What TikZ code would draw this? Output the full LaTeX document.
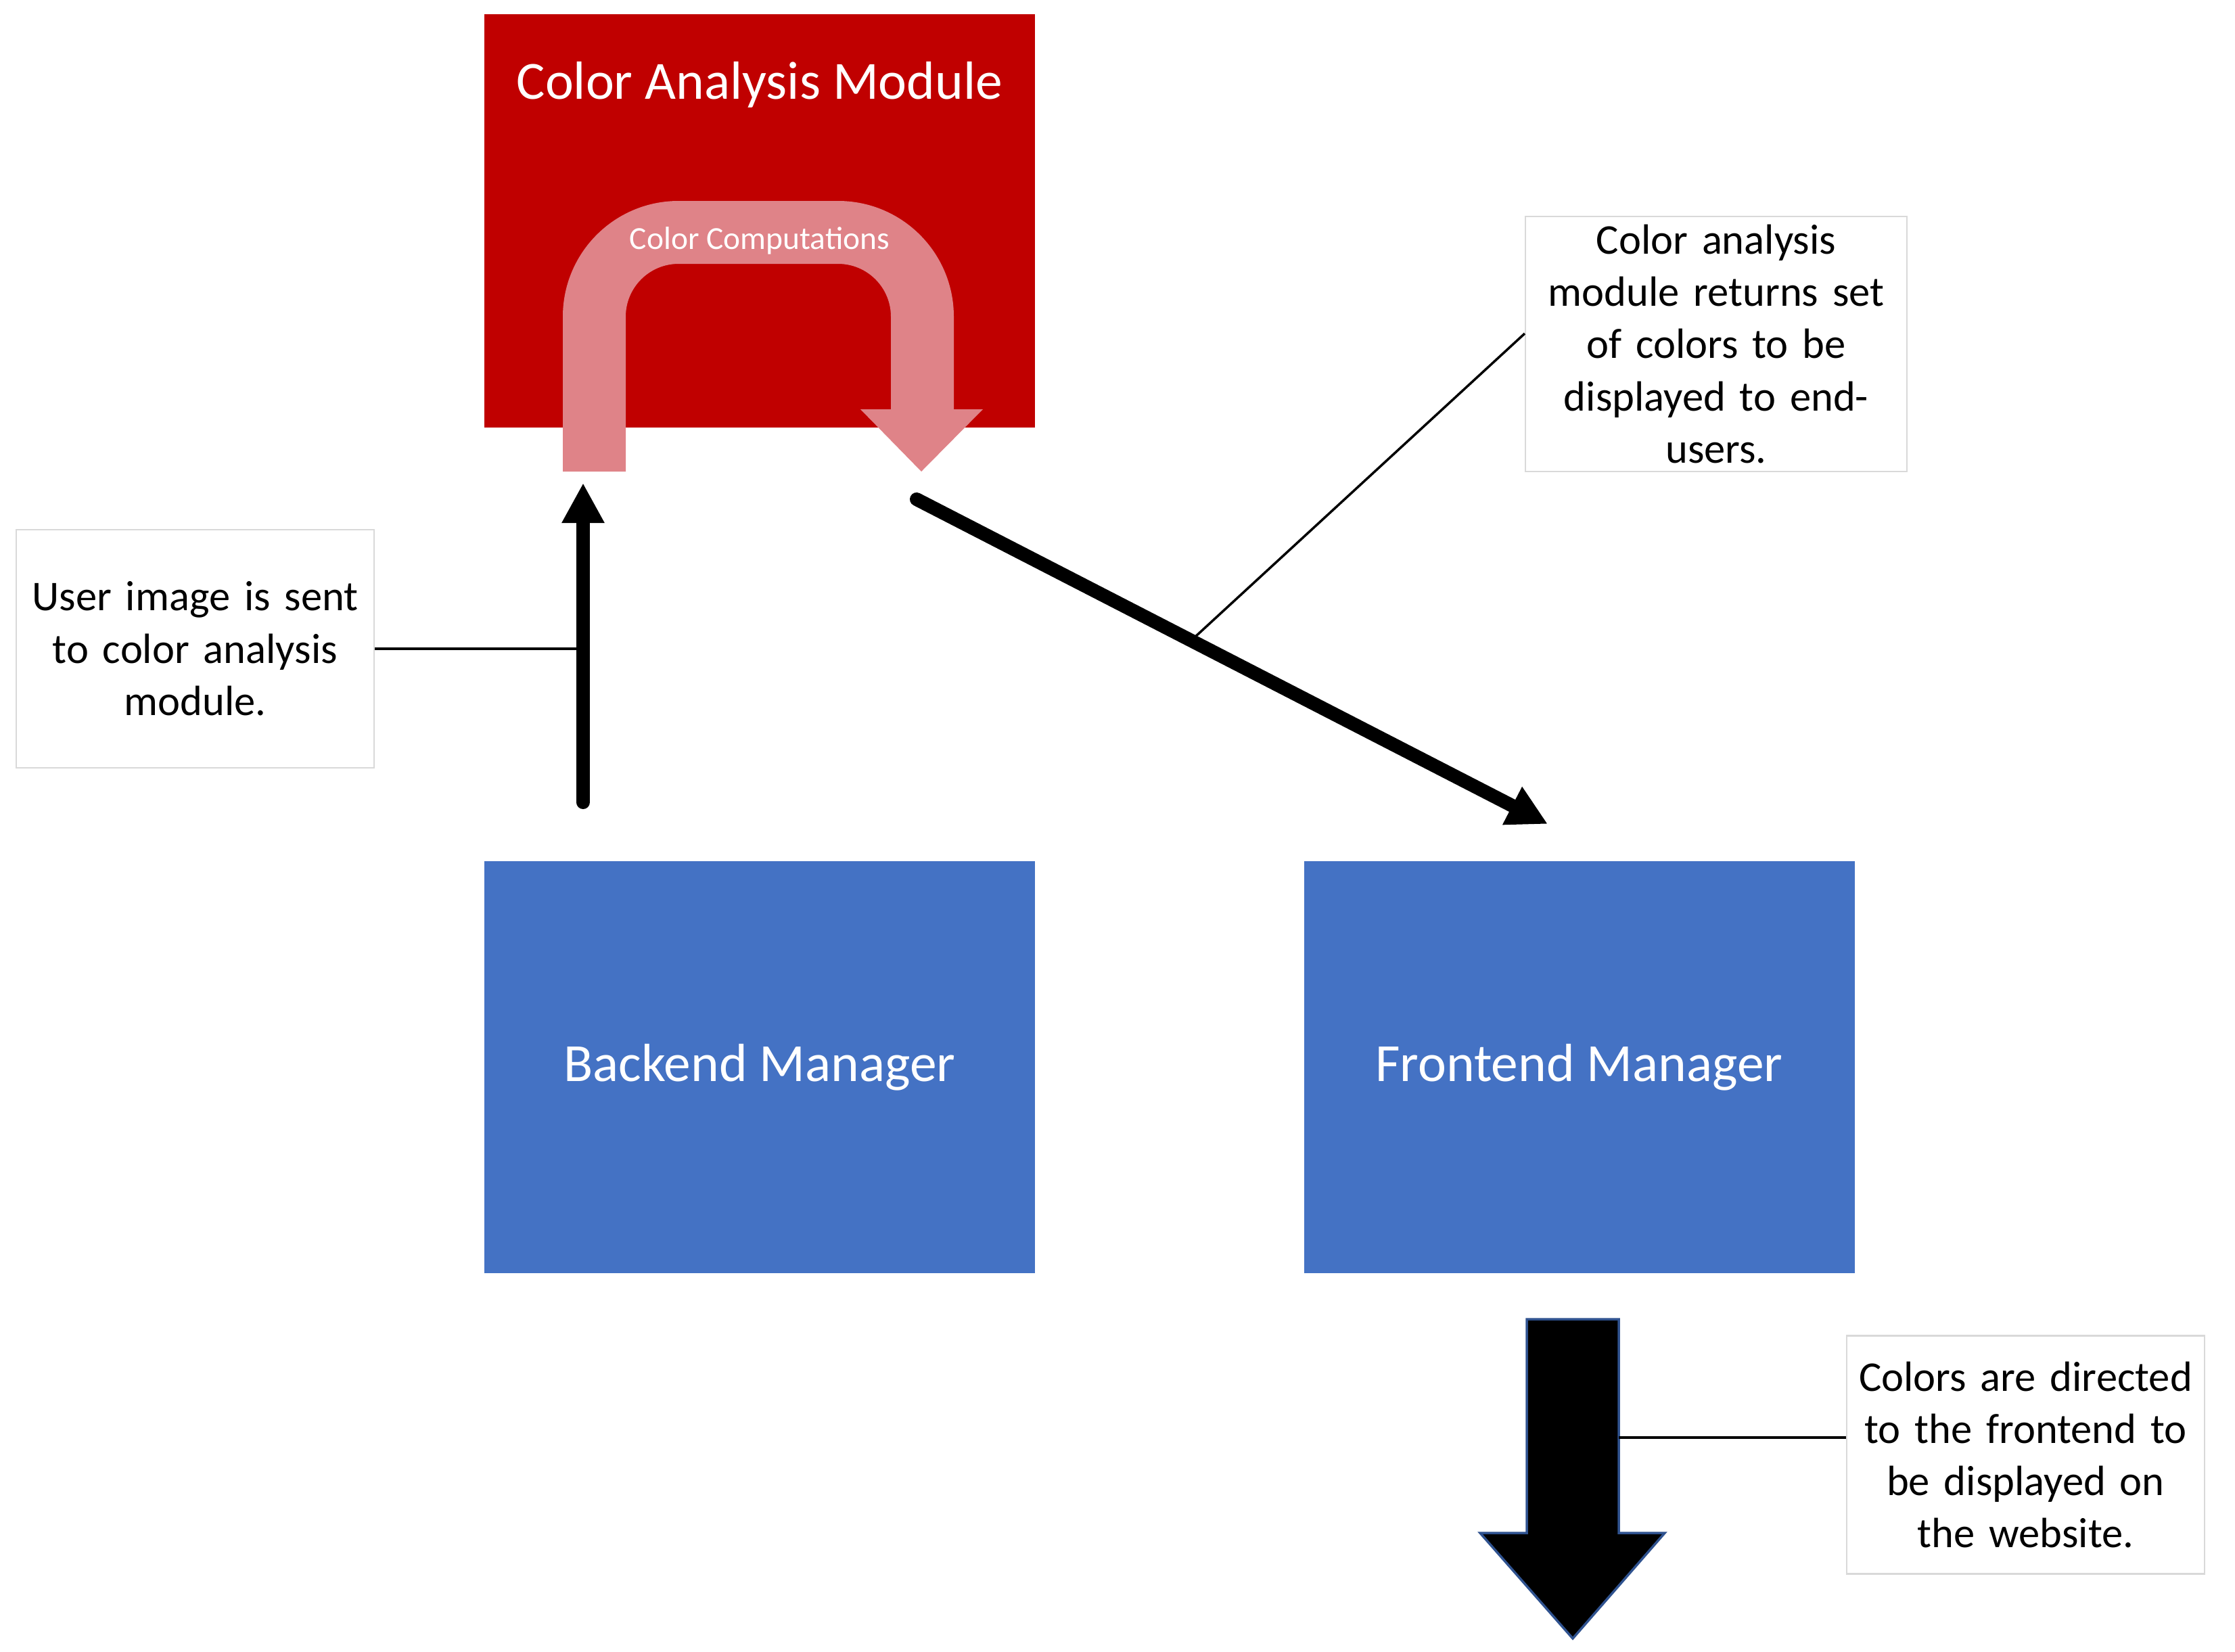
\documentclass[tikz,border=0pt]{standalone}
\usepackage{fontspec}
\setmainfont{Carlito}
\definecolor{modred}{RGB}{192, 0, 0}
\definecolor{turnpink}{RGB}{223, 131, 136}
\definecolor{mgrblue}{RGB}{68, 114, 196}
\definecolor{edgegray}{RGB}{217, 217, 217}
\definecolor{outline}{RGB}{47, 82, 143}
\usetikzlibrary{arrows.meta, positioning, calc}

\tikzset{
  bigtext/.style={font=\fontsize{22.6}{27}\selectfont, text=white},
  mgrbox/.style={fill=mgrblue, minimum width=8.14cm, minimum height=6.09cm, inner sep=0pt, bigtext},
  flow/.style={line width=5.7pt, line cap=round, -{Triangle[length=0.59cm, width=0.59cm]}},
  leader/.style={line width=1pt},
  note/.style={draw=edgegray, line width=0.6pt, fill=white, minimum width=5.29cm, minimum height=3.52cm,
    text width=5.2cm, align=center, inner sep=0pt, font=\fontsize{17.8}{22}\selectfont}
}

\begin{document}
\begin{tikzpicture}
  \useasboundingbox (0, 0) rectangle (33.04, -24.41);

  % Color analysis module
  \node[fill=modred, minimum width=8.14cm, minimum height=6.11cm, inner sep=0pt] (cam) at (11.23, -3.265) {};
  \node[bigtext] (camtitle) at (11.23, -1.25) {Color Analysis Module};

  % U-turn inside the module
  \fill[turnpink] (8.32, -6.97) -- (8.32, -4.68) arc (180:90:1.71) -- (12.39, -2.97) arc (90:0:1.71)
    -- (14.10, -6.05) -- (14.53, -6.05) -- (13.62, -6.97) -- (12.72, -6.05) -- (13.17, -6.05)
    -- (13.17, -4.68) arc (0:90:0.78) -- (10.03, -3.90) arc (90:180:0.78) -- (9.25, -6.97) -- cycle;
  \node[text=white, font=\fontsize{13.5}{16}\selectfont] (comptext) at (11.23, -3.56) {Color Computations};

  % Managers
  \node[mgrbox] (backend) at (11.23, -15.775) {\raisebox{-0.04cm}{Backend Manager}};
  \node[mgrbox] (frontend) at (23.345, -15.775) {\raisebox{-0.04cm}{Frontend Manager}};

  % Flow arrows
  \coordinate (upbot) at (8.62, -11.86);
  \coordinate (uptip) at (8.62, -7.14);
  \draw[flow] (upbot) -- (uptip);

  \coordinate (diagstart) at (13.55, -7.38);
  \coordinate (diagtip) at (22.88, -12.18);
  \draw[flow] (diagstart) -- (diagtip) coordinate[pos=0.435] (diagmid);

  % Output arrow
  \draw[fill=black, draw=outline, line width=1pt] (22.57, -19.50) -- (23.93, -19.50) -- (23.93, -22.66)
    -- (24.61, -22.66) -- (23.25, -24.22) -- (21.88, -22.66) -- (22.57, -22.66) -- cycle;
  \coordinate (shaftr) at (23.93, -21.25);

  % Notes
  \node[note] (usernote) at (2.885, -9.59) {User image is sent\\to color analysis\\module.};
  \node[note, minimum width=5.64cm, minimum height=3.77cm, text width=5.5cm] (returnnote) at (25.37, -5.085)
    {Color analysis\\module returns set\\of colors to be\\displayed to end-\\users.};
  \node[note] (colornote) at (29.945, -21.505) {Colors are directed\\to the frontend to\\be displayed on\\the website.};

  % Leader lines
  \draw[leader] (usernote.east) -- (usernote.east -| upbot);
  \draw[leader] ([yshift=0.155cm]returnnote.west) -- (diagmid);
  \draw[leader] (shaftr) -- (shaftr -| colornote.west);
\end{tikzpicture}
\end{document}
